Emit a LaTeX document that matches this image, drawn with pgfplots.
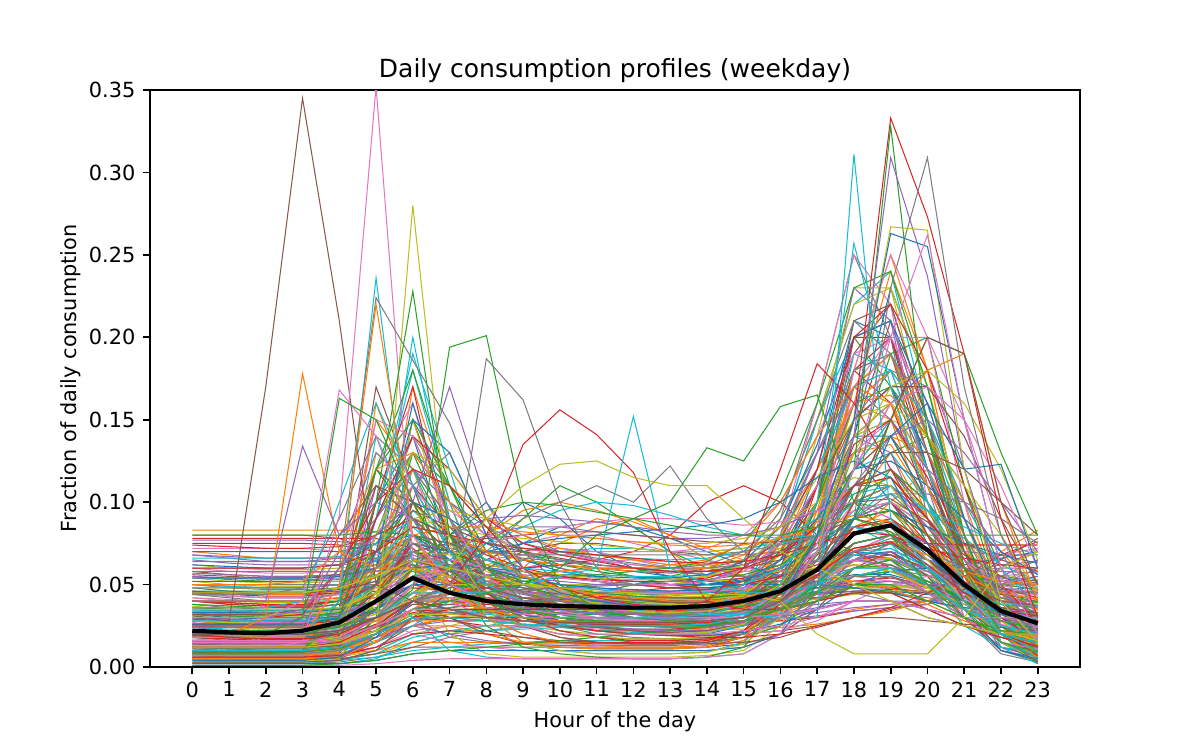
\documentclass[border=0pt]{standalone}
\usepackage{fontspec}
\setmainfont{DejaVu Sans}
\usepackage{pgfplots}
\usepackage{pgfplotstable}
\pgfplotsset{compat=1.18}
\definecolor{C0}{HTML}{1F77B4}
\definecolor{C1}{HTML}{FF7F0E}
\definecolor{C2}{HTML}{2CA02C}
\definecolor{C3}{HTML}{D62728}
\definecolor{C4}{HTML}{9467BD}
\definecolor{C5}{HTML}{8C564B}
\definecolor{C6}{HTML}{E377C2}
\definecolor{C7}{HTML}{7F7F7F}
\definecolor{C8}{HTML}{BCBD22}
\definecolor{C9}{HTML}{17BECF}
\pgfplotscreateplotcyclelist{tab}{{C0},{C1},{C2},{C3},{C4},{C5},{C6},{C7},{C8},{C9}}

% each row = one household profile, columns = hours 0..23
\pgfplotstableread[header=false]{
0.015 0.014 0.013 0.013 0.016 0.030 0.060 0.050 0.035 0.030 0.028 0.027 0.027 0.028 0.030 0.035 0.045 0.070 0.110 0.120 0.090 0.060 0.035 0.022
0.030 0.028 0.027 0.027 0.030 0.045 0.070 0.055 0.042 0.038 0.036 0.035 0.034 0.034 0.035 0.038 0.044 0.055 0.070 0.075 0.065 0.050 0.040 0.035
0.010 0.009 0.009 0.009 0.012 0.060 0.120 0.080 0.040 0.030 0.025 0.022 0.022 0.022 0.024 0.028 0.040 0.060 0.100 0.110 0.080 0.050 0.025 0.015
0.045 0.044 0.044 0.044 0.045 0.046 0.048 0.046 0.044 0.042 0.041 0.040 0.040 0.040 0.040 0.041 0.042 0.044 0.046 0.047 0.046 0.045 0.045 0.045
0.008 0.007 0.007 0.008 0.010 0.020 0.040 0.035 0.030 0.032 0.035 0.036 0.037 0.036 0.036 0.040 0.050 0.080 0.140 0.160 0.110 0.060 0.025 0.012
0.025 0.022 0.020 0.020 0.025 0.080 0.100 0.060 0.040 0.035 0.030 0.030 0.030 0.030 0.030 0.035 0.045 0.060 0.080 0.090 0.070 0.045 0.030 0.028
0.060 0.058 0.057 0.057 0.058 0.060 0.062 0.055 0.045 0.040 0.037 0.035 0.034 0.033 0.033 0.034 0.036 0.040 0.045 0.048 0.048 0.050 0.055 0.058
0.012 0.012 0.012 0.012 0.014 0.050 0.090 0.070 0.050 0.045 0.042 0.040 0.038 0.037 0.037 0.040 0.045 0.055 0.080 0.090 0.070 0.050 0.030 0.018
0.005 0.005 0.005 0.005 0.006 0.010 0.020 0.025 0.030 0.035 0.040 0.045 0.050 0.052 0.050 0.050 0.055 0.070 0.120 0.150 0.140 0.090 0.040 0.010
0.035 0.033 0.032 0.032 0.034 0.060 0.080 0.060 0.050 0.045 0.042 0.040 0.040 0.040 0.040 0.042 0.046 0.050 0.055 0.058 0.052 0.045 0.040 0.037
0.018 0.016 0.015 0.015 0.018 0.100 0.140 0.070 0.040 0.030 0.028 0.027 0.026 0.026 0.027 0.030 0.035 0.045 0.065 0.075 0.060 0.040 0.025 0.020
0.070 0.068 0.066 0.066 0.066 0.065 0.060 0.050 0.040 0.035 0.030 0.028 0.027 0.026 0.026 0.026 0.028 0.030 0.035 0.038 0.040 0.045 0.055 0.065
0.022 0.020 0.019 0.019 0.021 0.030 0.045 0.040 0.035 0.033 0.032 0.032 0.032 0.032 0.033 0.036 0.045 0.070 0.130 0.140 0.100 0.055 0.030 0.024
0.003 0.003 0.003 0.003 0.005 0.015 0.030 0.028 0.025 0.025 0.025 0.025 0.025 0.025 0.026 0.030 0.050 0.100 0.180 0.200 0.140 0.060 0.015 0.005
0.040 0.038 0.037 0.037 0.040 0.070 0.090 0.070 0.060 0.055 0.050 0.048 0.046 0.045 0.045 0.046 0.048 0.050 0.052 0.052 0.048 0.045 0.042 0.040
0.028 0.026 0.025 0.025 0.027 0.040 0.150 0.090 0.045 0.035 0.030 0.028 0.027 0.027 0.028 0.030 0.035 0.050 0.070 0.080 0.060 0.045 0.035 0.030
0.015 0.013 0.012 0.012 0.015 0.025 0.035 0.040 0.050 0.060 0.065 0.065 0.062 0.060 0.058 0.058 0.060 0.065 0.070 0.065 0.045 0.030 0.020 0.015
0.050 0.048 0.047 0.047 0.048 0.055 0.070 0.060 0.045 0.040 0.036 0.034 0.033 0.032 0.032 0.033 0.036 0.042 0.055 0.060 0.055 0.050 0.050 0.050
0.010 0.009 0.009 0.009 0.011 0.130 0.110 0.050 0.030 0.025 0.022 0.020 0.020 0.020 0.021 0.025 0.035 0.055 0.090 0.100 0.080 0.050 0.025 0.013
0.020 0.019 0.018 0.018 0.020 0.025 0.040 0.045 0.045 0.045 0.045 0.045 0.045 0.045 0.046 0.048 0.055 0.070 0.095 0.100 0.080 0.060 0.040 0.025
0.032 0.030 0.029 0.029 0.031 0.035 0.045 0.042 0.040 0.040 0.040 0.040 0.040 0.040 0.040 0.042 0.046 0.055 0.075 0.080 0.070 0.055 0.042 0.035
0.007 0.006 0.006 0.006 0.008 0.040 0.170 0.100 0.040 0.025 0.020 0.018 0.017 0.017 0.018 0.022 0.030 0.050 0.100 0.130 0.090 0.050 0.020 0.010
0.055 0.053 0.052 0.052 0.053 0.055 0.058 0.052 0.045 0.042 0.040 0.039 0.038 0.038 0.038 0.039 0.041 0.044 0.048 0.050 0.048 0.047 0.050 0.053
0.012 0.011 0.011 0.011 0.014 0.022 0.035 0.033 0.030 0.030 0.030 0.030 0.030 0.030 0.031 0.035 0.050 0.090 0.170 0.190 0.120 0.060 0.025 0.015
0.026 0.024 0.023 0.023 0.026 0.110 0.090 0.050 0.040 0.036 0.034 0.033 0.033 0.033 0.034 0.037 0.042 0.050 0.065 0.070 0.058 0.045 0.035 0.028
0.080 0.080 0.080 0.080 0.078 0.070 0.060 0.045 0.035 0.030 0.025 0.022 0.020 0.020 0.020 0.020 0.022 0.025 0.030 0.035 0.040 0.050 0.065 0.078
0.016 0.015 0.014 0.014 0.016 0.020 0.028 0.040 0.060 0.070 0.072 0.070 0.065 0.060 0.058 0.055 0.055 0.058 0.062 0.060 0.045 0.030 0.020 0.017
0.038 0.036 0.035 0.035 0.038 0.050 0.065 0.055 0.048 0.045 0.043 0.042 0.041 0.041 0.042 0.044 0.048 0.054 0.060 0.060 0.052 0.045 0.040 0.038
0.004 0.004 0.004 0.004 0.006 0.020 0.050 0.045 0.040 0.040 0.040 0.040 0.040 0.040 0.040 0.045 0.060 0.090 0.130 0.140 0.100 0.050 0.015 0.005
0.022 0.021 0.020 0.020 0.024 0.090 0.180 0.100 0.045 0.030 0.026 0.024 0.023 0.023 0.024 0.027 0.033 0.045 0.060 0.065 0.050 0.035 0.025 0.022
0.048 0.046 0.045 0.045 0.047 0.052 0.060 0.055 0.050 0.048 0.046 0.045 0.044 0.044 0.044 0.045 0.046 0.048 0.050 0.050 0.048 0.047 0.047 0.048
0.010 0.010 0.010 0.010 0.012 0.018 0.030 0.035 0.035 0.035 0.035 0.035 0.035 0.035 0.037 0.045 0.070 0.120 0.160 0.150 0.090 0.045 0.020 0.012
0.030 0.028 0.027 0.027 0.029 0.035 0.050 0.060 0.070 0.070 0.065 0.060 0.055 0.050 0.048 0.046 0.045 0.045 0.048 0.048 0.045 0.040 0.035 0.032
0.018 0.017 0.016 0.016 0.018 0.025 0.060 0.055 0.045 0.040 0.038 0.036 0.035 0.034 0.034 0.036 0.042 0.060 0.100 0.110 0.085 0.055 0.030 0.020
0.065 0.063 0.062 0.062 0.062 0.064 0.068 0.060 0.050 0.044 0.040 0.038 0.036 0.035 0.035 0.035 0.036 0.038 0.040 0.040 0.040 0.042 0.050 0.060
0.006 0.006 0.006 0.006 0.008 0.012 0.025 0.030 0.030 0.030 0.032 0.035 0.038 0.040 0.042 0.050 0.070 0.110 0.190 0.220 0.150 0.060 0.015 0.007
0.025 0.024 0.023 0.023 0.025 0.030 0.040 0.040 0.038 0.038 0.038 0.038 0.038 0.038 0.039 0.042 0.050 0.065 0.090 0.095 0.080 0.060 0.040 0.028
0.014 0.013 0.013 0.013 0.015 0.070 0.120 0.090 0.060 0.050 0.045 0.042 0.040 0.038 0.037 0.038 0.040 0.045 0.055 0.060 0.050 0.035 0.020 0.015
0.042 0.040 0.039 0.039 0.041 0.048 0.060 0.052 0.045 0.042 0.040 0.039 0.038 0.038 0.038 0.040 0.044 0.052 0.065 0.068 0.060 0.050 0.045 0.042
0.002 0.002 0.002 0.002 0.004 0.010 0.020 0.022 0.022 0.023 0.024 0.025 0.026 0.027 0.030 0.040 0.080 0.150 0.220 0.240 0.150 0.050 0.010 0.003
0.020 0.018 0.017 0.017 0.020 0.045 0.070 0.060 0.055 0.052 0.050 0.050 0.050 0.050 0.050 0.052 0.055 0.060 0.065 0.065 0.055 0.040 0.028 0.022
0.034 0.032 0.031 0.031 0.033 0.150 0.120 0.060 0.040 0.032 0.028 0.026 0.025 0.025 0.026 0.028 0.032 0.040 0.050 0.055 0.048 0.040 0.036 0.034
0.012 0.011 0.010 0.010 0.012 0.018 0.028 0.030 0.032 0.035 0.040 0.045 0.050 0.055 0.060 0.065 0.075 0.090 0.100 0.095 0.070 0.040 0.020 0.013
0.075 0.075 0.075 0.075 0.074 0.070 0.062 0.050 0.040 0.035 0.032 0.030 0.028 0.027 0.027 0.027 0.028 0.030 0.034 0.036 0.038 0.045 0.060 0.070
0.024 0.022 0.021 0.021 0.024 0.035 0.055 0.050 0.045 0.042 0.040 0.038 0.037 0.036 0.036 0.038 0.042 0.050 0.070 0.075 0.065 0.050 0.035 0.026
0.009 0.008 0.008 0.008 0.010 0.015 0.025 0.030 0.030 0.030 0.030 0.030 0.030 0.030 0.032 0.040 0.060 0.100 0.150 0.170 0.120 0.055 0.020 0.010
0.036 0.034 0.033 0.033 0.036 0.070 0.110 0.080 0.055 0.045 0.040 0.038 0.036 0.035 0.035 0.037 0.040 0.045 0.052 0.055 0.048 0.042 0.038 0.036
0.016 0.015 0.014 0.014 0.017 0.025 0.045 0.050 0.050 0.050 0.050 0.050 0.050 0.050 0.050 0.050 0.052 0.058 0.070 0.072 0.060 0.045 0.030 0.018
0.052 0.050 0.049 0.049 0.050 0.054 0.060 0.055 0.048 0.045 0.043 0.042 0.041 0.040 0.040 0.041 0.042 0.045 0.048 0.050 0.048 0.047 0.049 0.051
0.006 0.005 0.005 0.005 0.007 0.060 0.200 0.090 0.035 0.025 0.020 0.018 0.017 0.017 0.018 0.022 0.030 0.050 0.090 0.110 0.080 0.040 0.015 0.008
0.020 0.018 0.017 0.017 0.018 0.022 0.040 0.080 0.100 0.070 0.050 0.045 0.045 0.045 0.045 0.048 0.052 0.060 0.070 0.068 0.055 0.040 0.030 0.022
0.028 0.026 0.025 0.025 0.027 0.032 0.040 0.045 0.050 0.060 0.080 0.090 0.085 0.070 0.055 0.045 0.042 0.042 0.045 0.045 0.040 0.035 0.030 0.028
0.013 0.012 0.012 0.012 0.014 0.020 0.030 0.032 0.033 0.034 0.035 0.036 0.037 0.038 0.040 0.045 0.060 0.085 0.110 0.130 0.140 0.110 0.060 0.020
0.040 0.039 0.038 0.038 0.040 0.042 0.048 0.050 0.052 0.055 0.058 0.060 0.060 0.058 0.056 0.055 0.054 0.052 0.050 0.048 0.045 0.042 0.040 0.040
0.008 0.007 0.007 0.007 0.009 0.025 0.070 0.060 0.045 0.040 0.038 0.036 0.035 0.035 0.036 0.040 0.055 0.080 0.110 0.115 0.090 0.060 0.030 0.012
0.058 0.056 0.055 0.055 0.056 0.058 0.062 0.058 0.050 0.045 0.042 0.040 0.038 0.037 0.037 0.038 0.040 0.042 0.045 0.046 0.045 0.045 0.050 0.055
0.017 0.016 0.015 0.015 0.017 0.120 0.160 0.080 0.040 0.030 0.025 0.023 0.022 0.022 0.023 0.026 0.032 0.045 0.070 0.080 0.060 0.040 0.025 0.018
0.030 0.029 0.028 0.028 0.030 0.034 0.040 0.042 0.044 0.046 0.048 0.050 0.052 0.052 0.052 0.054 0.058 0.064 0.068 0.066 0.056 0.045 0.036 0.031
0.004 0.004 0.004 0.004 0.005 0.008 0.015 0.020 0.025 0.028 0.030 0.030 0.030 0.030 0.032 0.040 0.070 0.140 0.230 0.230 0.140 0.060 0.015 0.005
0.024 0.023 0.022 0.022 0.024 0.060 0.085 0.065 0.050 0.045 0.042 0.040 0.039 0.038 0.038 0.040 0.045 0.055 0.070 0.075 0.062 0.048 0.035 0.026
0.045 0.043 0.042 0.042 0.044 0.050 0.060 0.060 0.060 0.058 0.055 0.052 0.050 0.048 0.047 0.046 0.045 0.045 0.046 0.046 0.044 0.043 0.044 0.045
0.011 0.010 0.010 0.010 0.012 0.016 0.025 0.030 0.032 0.034 0.035 0.036 0.036 0.036 0.038 0.045 0.065 0.095 0.120 0.140 0.130 0.090 0.045 0.015
0.033 0.031 0.030 0.030 0.033 0.090 0.130 0.080 0.050 0.040 0.035 0.033 0.032 0.031 0.031 0.033 0.038 0.045 0.055 0.058 0.050 0.042 0.036 0.033
0.019 0.018 0.017 0.017 0.019 0.024 0.033 0.036 0.038 0.040 0.042 0.044 0.046 0.048 0.050 0.054 0.062 0.075 0.090 0.095 0.080 0.060 0.040 0.022
0.068 0.067 0.066 0.066 0.066 0.066 0.066 0.060 0.050 0.042 0.037 0.034 0.032 0.031 0.030 0.030 0.031 0.033 0.036 0.038 0.040 0.045 0.055 0.065
0.007 0.007 0.007 0.007 0.009 0.030 0.100 0.090 0.060 0.045 0.040 0.038 0.036 0.035 0.035 0.038 0.045 0.060 0.080 0.090 0.070 0.045 0.020 0.009
0.027 0.025 0.024 0.024 0.026 0.030 0.038 0.040 0.040 0.040 0.040 0.040 0.040 0.040 0.041 0.044 0.052 0.070 0.100 0.110 0.085 0.060 0.040 0.030
0.015 0.014 0.013 0.013 0.016 0.080 0.140 0.110 0.070 0.050 0.040 0.035 0.032 0.030 0.030 0.032 0.036 0.045 0.060 0.065 0.050 0.035 0.022 0.016
0.037 0.035 0.034 0.034 0.036 0.040 0.048 0.050 0.052 0.054 0.056 0.056 0.055 0.054 0.053 0.052 0.052 0.052 0.052 0.050 0.046 0.042 0.040 0.038
0.003 0.003 0.003 0.003 0.004 0.008 0.018 0.022 0.025 0.028 0.030 0.032 0.034 0.036 0.040 0.050 0.080 0.130 0.170 0.180 0.150 0.080 0.025 0.005
0.021 0.020 0.019 0.019 0.022 0.040 0.075 0.065 0.055 0.050 0.047 0.045 0.043 0.042 0.042 0.044 0.048 0.056 0.068 0.070 0.058 0.045 0.032 0.023
0.083 0.083 0.083 0.083 0.083 0.082 0.075 0.060 0.045 0.035 0.030 0.027 0.025 0.024 0.023 0.023 0.024 0.026 0.030 0.034 0.040 0.050 0.070 0.083
0.010 0.010 0.010 0.010 0.012 0.020 0.030 0.045 0.060 0.065 0.060 0.055 0.050 0.048 0.046 0.046 0.050 0.060 0.075 0.080 0.065 0.045 0.025 0.012
0.046 0.044 0.043 0.043 0.045 0.055 0.075 0.065 0.055 0.050 0.046 0.044 0.042 0.041 0.041 0.042 0.044 0.048 0.052 0.054 0.050 0.047 0.046 0.046
0.014 0.013 0.012 0.012 0.014 0.020 0.035 0.040 0.040 0.040 0.040 0.040 0.040 0.040 0.042 0.050 0.075 0.110 0.140 0.130 0.080 0.045 0.022 0.015
0.031 0.029 0.028 0.028 0.031 0.170 0.110 0.050 0.035 0.030 0.028 0.027 0.027 0.027 0.028 0.030 0.034 0.040 0.050 0.055 0.048 0.040 0.034 0.031
0.023 0.022 0.021 0.021 0.023 0.028 0.040 0.050 0.055 0.060 0.062 0.064 0.065 0.064 0.062 0.060 0.058 0.056 0.055 0.052 0.045 0.038 0.030 0.024
0.005 0.005 0.005 0.005 0.007 0.015 0.035 0.040 0.040 0.040 0.040 0.040 0.040 0.040 0.042 0.050 0.070 0.100 0.160 0.180 0.120 0.050 0.015 0.006
0.062 0.060 0.059 0.059 0.060 0.062 0.064 0.058 0.050 0.045 0.042 0.040 0.039 0.038 0.038 0.038 0.039 0.041 0.044 0.046 0.046 0.048 0.053 0.059
0.018 0.017 0.016 0.016 0.018 0.050 0.095 0.075 0.055 0.048 0.044 0.042 0.040 0.039 0.039 0.041 0.046 0.055 0.075 0.080 0.065 0.045 0.028 0.019
0.016 0.015 0.014 0.014 0.016 0.022 0.035 0.038 0.040 0.040 0.040 0.040 0.040 0.040 0.042 0.048 0.065 0.110 0.130 0.100 0.070 0.045 0.028 0.018
0.026 0.025 0.024 0.024 0.026 0.030 0.040 0.042 0.042 0.042 0.042 0.042 0.042 0.042 0.043 0.046 0.052 0.060 0.080 0.100 0.120 0.080 0.045 0.030
0.012 0.011 0.011 0.011 0.013 0.020 0.032 0.035 0.035 0.036 0.037 0.038 0.039 0.040 0.042 0.050 0.070 0.100 0.200 0.170 0.100 0.050 0.022 0.013
0.040 0.038 0.037 0.037 0.040 0.045 0.055 0.052 0.048 0.046 0.044 0.043 0.042 0.042 0.042 0.044 0.048 0.055 0.065 0.068 0.060 0.050 0.044 0.041
0.008 0.008 0.008 0.008 0.010 0.015 0.028 0.032 0.034 0.036 0.038 0.040 0.042 0.044 0.046 0.050 0.060 0.080 0.120 0.160 0.180 0.120 0.050 0.012
0.020 0.019 0.018 0.018 0.021 0.060 0.110 0.085 0.060 0.050 0.045 0.042 0.040 0.039 0.039 0.040 0.044 0.050 0.060 0.062 0.052 0.040 0.028 0.021
0.034 0.033 0.032 0.032 0.034 0.038 0.045 0.045 0.045 0.045 0.045 0.045 0.045 0.045 0.046 0.048 0.052 0.058 0.065 0.066 0.058 0.048 0.040 0.035
0.002 0.002 0.002 0.002 0.003 0.006 0.012 0.018 0.022 0.025 0.028 0.030 0.032 0.034 0.038 0.050 0.090 0.160 0.250 0.200 0.090 0.030 0.008 0.003
0.054 0.052 0.051 0.051 0.052 0.056 0.064 0.060 0.054 0.050 0.047 0.045 0.044 0.043 0.043 0.043 0.044 0.046 0.048 0.049 0.048 0.048 0.050 0.053
0.013 0.012 0.012 0.012 0.014 0.090 0.190 0.120 0.050 0.030 0.024 0.022 0.021 0.021 0.022 0.025 0.032 0.045 0.065 0.070 0.055 0.035 0.020 0.014
0.029 0.028 0.027 0.027 0.029 0.033 0.042 0.048 0.055 0.060 0.062 0.060 0.058 0.055 0.052 0.050 0.050 0.052 0.056 0.056 0.050 0.042 0.035 0.030
0.009 0.009 0.009 0.009 0.011 0.018 0.030 0.034 0.036 0.038 0.040 0.041 0.042 0.043 0.045 0.052 0.068 0.095 0.130 0.135 0.100 0.060 0.028 0.011
0.036 0.035 0.034 0.034 0.036 0.120 0.090 0.055 0.045 0.040 0.038 0.036 0.035 0.035 0.035 0.037 0.040 0.046 0.055 0.058 0.050 0.043 0.038 0.036
0.019 0.018 0.017 0.017 0.019 0.025 0.040 0.045 0.048 0.050 0.050 0.050 0.050 0.050 0.050 0.052 0.058 0.068 0.085 0.088 0.072 0.052 0.035 0.020
0.077 0.077 0.077 0.077 0.076 0.074 0.070 0.060 0.048 0.040 0.035 0.032 0.030 0.029 0.028 0.028 0.029 0.031 0.034 0.036 0.038 0.045 0.060 0.072
0.006 0.006 0.006 0.006 0.008 0.040 0.080 0.070 0.055 0.048 0.044 0.042 0.041 0.040 0.040 0.043 0.050 0.065 0.090 0.100 0.080 0.050 0.020 0.008
0.044 0.043 0.042 0.042 0.044 0.048 0.055 0.054 0.052 0.050 0.048 0.047 0.046 0.046 0.046 0.047 0.048 0.050 0.052 0.052 0.049 0.046 0.045 0.044
0.011 0.010 0.010 0.010 0.012 0.018 0.030 0.036 0.040 0.042 0.044 0.045 0.046 0.046 0.047 0.050 0.060 0.080 0.110 0.120 0.100 0.070 0.035 0.013
0.025 0.024 0.023 0.023 0.026 0.070 0.100 0.075 0.058 0.050 0.046 0.044 0.042 0.041 0.041 0.043 0.047 0.054 0.064 0.066 0.055 0.042 0.030 0.026
0.001 0.001 0.001 0.001 0.002 0.005 0.015 0.020 0.022 0.024 0.026 0.028 0.030 0.032 0.036 0.045 0.080 0.150 0.200 0.210 0.140 0.060 0.012 0.002
0.020 0.019 0.018 0.018 0.020 0.030 0.045 0.060 0.080 0.100 0.090 0.070 0.060 0.055 0.050 0.050 0.052 0.058 0.065 0.062 0.050 0.038 0.028 0.021
0.015 0.014 0.014 0.014 0.016 0.022 0.035 0.045 0.055 0.065 0.075 0.085 0.090 0.080 0.065 0.055 0.052 0.055 0.062 0.060 0.048 0.035 0.022 0.016
0.032 0.031 0.030 0.030 0.032 0.036 0.045 0.055 0.075 0.090 0.110 0.100 0.085 0.070 0.060 0.055 0.050 0.048 0.048 0.046 0.040 0.036 0.033 0.032
0.010 0.010 0.010 0.010 0.012 0.020 0.040 0.050 0.055 0.060 0.062 0.065 0.070 0.080 0.100 0.110 0.100 0.080 0.070 0.060 0.045 0.030 0.018 0.011
0.022 0.021 0.020 0.020 0.022 0.028 0.050 0.070 0.090 0.080 0.070 0.065 0.060 0.058 0.056 0.055 0.056 0.060 0.065 0.062 0.050 0.038 0.028 0.023
0.005 0.005 0.005 0.005 0.005 0.008 0.012 0.012 0.012 0.012 0.012 0.012 0.012 0.012 0.012 0.014 0.020 0.035 0.060 0.070 0.055 0.030 0.012 0.006
0.030 0.028 0.027 0.027 0.028 0.030 0.020 0.015 0.012 0.010 0.010 0.010 0.010 0.010 0.010 0.012 0.020 0.040 0.070 0.080 0.070 0.060 0.045 0.035
0.050 0.050 0.050 0.050 0.050 0.050 0.030 0.018 0.015 0.014 0.014 0.014 0.014 0.014 0.015 0.018 0.025 0.040 0.060 0.065 0.060 0.055 0.052 0.050
0.015 0.015 0.015 0.015 0.016 0.040 0.060 0.020 0.008 0.006 0.006 0.006 0.006 0.006 0.007 0.010 0.025 0.060 0.100 0.110 0.090 0.060 0.030 0.016
0.040 0.040 0.040 0.040 0.040 0.045 0.030 0.010 0.006 0.005 0.005 0.005 0.005 0.005 0.006 0.008 0.020 0.050 0.090 0.100 0.085 0.070 0.055 0.045
0.010 0.010 0.010 0.010 0.012 0.020 0.030 0.030 0.030 0.030 0.030 0.030 0.030 0.030 0.032 0.040 0.060 0.120 0.210 0.200 0.120 0.050 0.020 0.011
0.008 0.008 0.008 0.008 0.010 0.018 0.028 0.028 0.028 0.028 0.028 0.028 0.028 0.028 0.030 0.036 0.050 0.090 0.160 0.240 0.180 0.080 0.025 0.009
0.012 0.012 0.012 0.012 0.014 0.022 0.035 0.035 0.034 0.033 0.032 0.032 0.032 0.032 0.034 0.040 0.055 0.080 0.120 0.190 0.200 0.110 0.040 0.013
0.018 0.017 0.016 0.016 0.018 0.026 0.040 0.040 0.038 0.036 0.035 0.035 0.035 0.035 0.036 0.042 0.060 0.110 0.180 0.160 0.100 0.050 0.025 0.019
0.006 0.006 0.006 0.006 0.008 0.015 0.025 0.028 0.028 0.028 0.028 0.028 0.028 0.030 0.034 0.045 0.075 0.130 0.230 0.210 0.110 0.040 0.012 0.007
0.014 0.013 0.013 0.013 0.015 0.024 0.038 0.038 0.036 0.034 0.033 0.033 0.033 0.033 0.035 0.040 0.055 0.090 0.140 0.210 0.150 0.060 0.025 0.015
0.005 0.005 0.005 0.005 0.006 0.012 0.022 0.025 0.025 0.025 0.025 0.026 0.027 0.028 0.032 0.045 0.080 0.160 0.250 0.220 0.100 0.030 0.010 0.006
0.011 0.011 0.011 0.011 0.013 0.020 0.032 0.033 0.033 0.033 0.033 0.033 0.033 0.033 0.035 0.042 0.058 0.090 0.150 0.180 0.170 0.090 0.035 0.012
0.020 0.019 0.018 0.018 0.020 0.028 0.042 0.042 0.040 0.038 0.037 0.037 0.037 0.037 0.038 0.044 0.060 0.100 0.170 0.190 0.130 0.060 0.030 0.021
0.016 0.015 0.015 0.015 0.020 0.140 0.090 0.050 0.040 0.035 0.032 0.030 0.030 0.030 0.030 0.033 0.040 0.055 0.080 0.085 0.065 0.045 0.028 0.018
0.022 0.021 0.020 0.020 0.025 0.060 0.160 0.090 0.050 0.040 0.035 0.032 0.030 0.030 0.031 0.034 0.040 0.052 0.070 0.075 0.060 0.042 0.030 0.023
0.012 0.012 0.012 0.012 0.015 0.160 0.100 0.050 0.035 0.030 0.028 0.027 0.026 0.026 0.027 0.030 0.038 0.055 0.085 0.095 0.075 0.048 0.025 0.013
0.028 0.027 0.026 0.026 0.030 0.050 0.130 0.110 0.070 0.050 0.042 0.038 0.036 0.035 0.035 0.037 0.042 0.050 0.060 0.062 0.052 0.040 0.032 0.029
0.009 0.009 0.009 0.009 0.012 0.100 0.170 0.070 0.035 0.028 0.025 0.024 0.023 0.023 0.024 0.028 0.036 0.055 0.090 0.100 0.075 0.045 0.020 0.010
0.060 0.060 0.060 0.060 0.062 0.080 0.110 0.070 0.050 0.040 0.035 0.032 0.030 0.030 0.030 0.032 0.036 0.045 0.060 0.065 0.060 0.058 0.060 0.060
0.052 0.052 0.052 0.052 0.055 0.120 0.100 0.060 0.040 0.032 0.028 0.026 0.025 0.025 0.026 0.030 0.040 0.055 0.075 0.080 0.070 0.060 0.055 0.052
0.072 0.072 0.072 0.072 0.070 0.068 0.070 0.060 0.045 0.035 0.028 0.025 0.022 0.020 0.020 0.020 0.022 0.028 0.040 0.050 0.055 0.060 0.068 0.072
0.044 0.042 0.040 0.040 0.045 0.090 0.140 0.090 0.050 0.035 0.030 0.028 0.026 0.025 0.025 0.027 0.032 0.045 0.065 0.075 0.065 0.055 0.048 0.045
0.038 0.037 0.036 0.036 0.038 0.045 0.060 0.060 0.055 0.050 0.045 0.042 0.040 0.038 0.037 0.038 0.042 0.055 0.080 0.090 0.075 0.055 0.042 0.039
0.004 0.003 0.003 0.003 0.004 0.006 0.010 0.012 0.014 0.015 0.016 0.016 0.016 0.016 0.017 0.020 0.030 0.060 0.120 0.150 0.120 0.070 0.020 0.005
0.002 0.002 0.002 0.002 0.002 0.004 0.008 0.010 0.010 0.010 0.010 0.010 0.010 0.010 0.010 0.012 0.020 0.050 0.140 0.230 0.170 0.080 0.015 0.003
0.008 0.008 0.008 0.008 0.008 0.010 0.015 0.015 0.015 0.015 0.015 0.015 0.015 0.015 0.016 0.020 0.040 0.090 0.160 0.180 0.150 0.100 0.040 0.010
0.030 0.030 0.030 0.030 0.032 0.040 0.055 0.050 0.040 0.030 0.022 0.018 0.015 0.015 0.015 0.018 0.025 0.045 0.090 0.120 0.100 0.070 0.045 0.032
0.025 0.024 0.024 0.024 0.026 0.035 0.050 0.045 0.035 0.025 0.018 0.015 0.014 0.014 0.015 0.020 0.035 0.070 0.140 0.160 0.120 0.070 0.040 0.028
0.015 0.014 0.014 0.014 0.015 0.018 0.025 0.020 0.016 0.014 0.013 0.013 0.013 0.013 0.014 0.018 0.030 0.080 0.200 0.210 0.140 0.070 0.030 0.016
0.035 0.034 0.033 0.033 0.035 0.060 0.090 0.070 0.040 0.025 0.018 0.015 0.014 0.014 0.015 0.020 0.035 0.070 0.120 0.140 0.110 0.070 0.045 0.036
0.020 0.020 0.020 0.020 0.022 0.030 0.045 0.040 0.030 0.020 0.015 0.012 0.011 0.011 0.012 0.016 0.030 0.080 0.170 0.200 0.160 0.090 0.040 0.022
0.028 0.028 0.028 0.028 0.030 0.050 0.110 0.130 0.080 0.040 0.025 0.020 0.018 0.017 0.017 0.020 0.030 0.060 0.100 0.110 0.090 0.060 0.040 0.030
0.048 0.048 0.048 0.048 0.050 0.055 0.065 0.050 0.035 0.025 0.020 0.018 0.017 0.017 0.018 0.022 0.035 0.060 0.090 0.100 0.090 0.070 0.055 0.050
0.010 0.010 0.010 0.010 0.015 0.070 0.120 0.070 0.030 0.015 0.010 0.008 0.008 0.008 0.009 0.015 0.035 0.080 0.140 0.150 0.110 0.060 0.025 0.012
0.018 0.018 0.018 0.018 0.020 0.030 0.050 0.060 0.050 0.040 0.030 0.025 0.022 0.020 0.020 0.025 0.040 0.080 0.150 0.170 0.130 0.070 0.030 0.019
0.033 0.033 0.033 0.033 0.035 0.045 0.070 0.060 0.045 0.035 0.028 0.024 0.022 0.021 0.022 0.026 0.040 0.070 0.110 0.120 0.095 0.065 0.045 0.035
0.005 0.005 0.005 0.005 0.006 0.030 0.090 0.060 0.025 0.012 0.008 0.006 0.005 0.005 0.006 0.012 0.040 0.100 0.180 0.190 0.140 0.070 0.020 0.006
0.040 0.039 0.038 0.038 0.040 0.050 0.070 0.065 0.055 0.045 0.038 0.034 0.032 0.030 0.030 0.032 0.040 0.060 0.085 0.090 0.075 0.060 0.048 0.042
0.057 0.056 0.055 0.055 0.056 0.065 0.080 0.065 0.045 0.035 0.028 0.025 0.023 0.022 0.022 0.025 0.032 0.045 0.065 0.070 0.065 0.060 0.058 0.057
0.012 0.012 0.012 0.012 0.013 0.020 0.035 0.030 0.020 0.014 0.012 0.011 0.011 0.011 0.012 0.018 0.040 0.100 0.210 0.220 0.150 0.070 0.025 0.013
0.022 0.022 0.022 0.022 0.025 0.040 0.065 0.055 0.040 0.030 0.025 0.022 0.020 0.020 0.021 0.026 0.040 0.075 0.130 0.150 0.120 0.075 0.040 0.024
0.064 0.064 0.064 0.064 0.064 0.066 0.070 0.060 0.045 0.035 0.030 0.027 0.025 0.024 0.024 0.025 0.030 0.040 0.055 0.060 0.058 0.058 0.062 0.064
0.003 0.003 0.003 0.003 0.005 0.040 0.150 0.080 0.030 0.015 0.010 0.008 0.008 0.008 0.009 0.014 0.030 0.070 0.140 0.160 0.120 0.060 0.015 0.004
0.016 0.016 0.016 0.016 0.018 0.025 0.040 0.040 0.035 0.030 0.025 0.022 0.020 0.020 0.021 0.025 0.040 0.085 0.190 0.180 0.120 0.060 0.025 0.017
0.026 0.026 0.026 0.026 0.028 0.035 0.050 0.050 0.040 0.032 0.028 0.026 0.025 0.025 0.026 0.030 0.045 0.080 0.140 0.140 0.100 0.060 0.035 0.027
0.010 0.010 0.010 0.010 0.011 0.015 0.025 0.025 0.020 0.015 0.012 0.011 0.011 0.011 0.012 0.016 0.035 0.090 0.180 0.250 0.180 0.080 0.025 0.011
0.046 0.046 0.046 0.046 0.048 0.070 0.100 0.080 0.055 0.040 0.032 0.028 0.026 0.025 0.025 0.028 0.035 0.050 0.070 0.075 0.068 0.058 0.050 0.047
0.006 0.006 0.006 0.006 0.007 0.012 0.020 0.022 0.020 0.018 0.016 0.015 0.015 0.015 0.016 0.022 0.045 0.110 0.200 0.200 0.130 0.060 0.020 0.007
0.036 0.036 0.036 0.036 0.038 0.050 0.075 0.065 0.045 0.035 0.030 0.027 0.025 0.024 0.024 0.027 0.035 0.055 0.090 0.100 0.085 0.060 0.042 0.037
0.019 0.019 0.019 0.019 0.022 0.050 0.100 0.080 0.050 0.035 0.028 0.024 0.022 0.021 0.022 0.026 0.038 0.065 0.110 0.120 0.095 0.060 0.032 0.020
0.001 0.001 0.001 0.001 0.001 0.002 0.004 0.005 0.005 0.005 0.005 0.005 0.005 0.005 0.006 0.008 0.020 0.070 0.180 0.250 0.200 0.100 0.020 0.002
0.050 0.049 0.048 0.048 0.050 0.060 0.075 0.060 0.045 0.035 0.030 0.028 0.026 0.025 0.025 0.028 0.035 0.050 0.070 0.078 0.070 0.060 0.054 0.051
0.013 0.013 0.013 0.013 0.015 0.030 0.060 0.055 0.040 0.030 0.025 0.022 0.020 0.020 0.021 0.026 0.042 0.080 0.140 0.150 0.110 0.060 0.028 0.014
0.024 0.024 0.024 0.024 0.026 0.040 0.070 0.060 0.045 0.035 0.030 0.028 0.027 0.027 0.028 0.032 0.045 0.075 0.120 0.130 0.100 0.060 0.035 0.025
0.070 0.070 0.070 0.070 0.070 0.075 0.080 0.065 0.045 0.032 0.025 0.022 0.020 0.019 0.019 0.021 0.026 0.035 0.050 0.058 0.060 0.062 0.066 0.070
0.007 0.007 0.007 0.007 0.009 0.025 0.060 0.050 0.030 0.020 0.015 0.013 0.012 0.012 0.013 0.018 0.040 0.095 0.170 0.190 0.140 0.075 0.025 0.008
0.031 0.031 0.031 0.031 0.033 0.045 0.065 0.058 0.045 0.036 0.030 0.027 0.025 0.025 0.026 0.030 0.042 0.068 0.105 0.115 0.090 0.060 0.038 0.032
0.015 0.015 0.015 0.015 0.017 0.035 0.080 0.070 0.045 0.030 0.022 0.018 0.016 0.016 0.017 0.022 0.038 0.078 0.135 0.150 0.115 0.065 0.030 0.016
0.055 0.054 0.053 0.053 0.054 0.058 0.065 0.060 0.052 0.046 0.042 0.040 0.038 0.037 0.037 0.038 0.040 0.044 0.050 0.052 0.050 0.050 0.052 0.055
0.003 0.003 0.003 0.003 0.004 0.010 0.030 0.045 0.060 0.070 0.075 0.075 0.072 0.070 0.068 0.068 0.070 0.080 0.090 0.085 0.060 0.030 0.010 0.004
0.012 0.012 0.012 0.012 0.014 0.020 0.035 0.050 0.065 0.075 0.080 0.080 0.075 0.070 0.065 0.060 0.058 0.060 0.065 0.060 0.045 0.030 0.018 0.013
0.040 0.040 0.040 0.040 0.042 0.050 0.065 0.070 0.070 0.068 0.065 0.062 0.060 0.058 0.056 0.055 0.052 0.050 0.048 0.045 0.042 0.040 0.040 0.040
0.024 0.024 0.024 0.024 0.026 0.032 0.045 0.055 0.062 0.068 0.070 0.068 0.065 0.062 0.060 0.058 0.058 0.060 0.062 0.058 0.048 0.038 0.030 0.025
0.008 0.008 0.008 0.008 0.010 0.015 0.025 0.040 0.055 0.065 0.070 0.072 0.072 0.070 0.070 0.072 0.075 0.080 0.085 0.075 0.050 0.025 0.012 0.009
0.033 0.033 0.033 0.033 0.035 0.040 0.050 0.058 0.065 0.075 0.085 0.088 0.085 0.078 0.070 0.062 0.055 0.050 0.048 0.045 0.040 0.036 0.034 0.033
0.018 0.018 0.018 0.018 0.020 0.028 0.042 0.060 0.080 0.095 0.100 0.095 0.088 0.080 0.072 0.065 0.058 0.055 0.052 0.048 0.038 0.028 0.020 0.018
0.001 0.001 0.001 0.001 0.002 0.004 0.008 0.010 0.012 0.014 0.016 0.018 0.020 0.022 0.025 0.030 0.050 0.100 0.160 0.170 0.140 0.080 0.020 0.002
0.078 0.078 0.078 0.078 0.078 0.078 0.072 0.055 0.040 0.030 0.025 0.022 0.020 0.019 0.018 0.018 0.020 0.024 0.030 0.036 0.045 0.055 0.068 0.076
0.068 0.066 0.064 0.064 0.066 0.090 0.120 0.100 0.080 0.070 0.060 0.055 0.050 0.048 0.048 0.050 0.055 0.065 0.080 0.085 0.075 0.070 0.068 0.068
0.056 0.055 0.054 0.054 0.056 0.070 0.095 0.085 0.075 0.070 0.066 0.062 0.060 0.058 0.058 0.060 0.065 0.075 0.090 0.095 0.085 0.075 0.065 0.058
0.042 0.041 0.040 0.040 0.044 0.080 0.110 0.095 0.080 0.072 0.068 0.065 0.062 0.060 0.060 0.062 0.068 0.080 0.095 0.100 0.085 0.065 0.050 0.043
0.035 0.034 0.033 0.033 0.036 0.100 0.130 0.100 0.085 0.075 0.070 0.066 0.063 0.060 0.060 0.062 0.068 0.080 0.100 0.105 0.085 0.060 0.042 0.036
0.028 0.027 0.026 0.026 0.030 0.060 0.090 0.085 0.080 0.078 0.076 0.074 0.072 0.070 0.070 0.072 0.078 0.090 0.110 0.115 0.095 0.065 0.040 0.029
0.050 0.049 0.048 0.048 0.050 0.065 0.085 0.080 0.075 0.072 0.070 0.068 0.066 0.065 0.066 0.070 0.078 0.090 0.105 0.110 0.095 0.078 0.062 0.052
0.062 0.061 0.060 0.060 0.062 0.075 0.100 0.090 0.075 0.065 0.058 0.054 0.052 0.050 0.050 0.053 0.060 0.072 0.090 0.095 0.085 0.075 0.068 0.063
0.020 0.019 0.019 0.019 0.022 0.070 0.120 0.110 0.090 0.080 0.072 0.068 0.065 0.062 0.062 0.065 0.072 0.088 0.110 0.115 0.090 0.060 0.035 0.021
0.038 0.037 0.036 0.036 0.040 0.120 0.150 0.110 0.085 0.070 0.062 0.058 0.055 0.053 0.053 0.056 0.062 0.075 0.090 0.095 0.080 0.060 0.045 0.039
0.074 0.073 0.072 0.072 0.073 0.080 0.090 0.080 0.068 0.060 0.055 0.052 0.050 0.048 0.048 0.050 0.055 0.062 0.072 0.076 0.075 0.074 0.074 0.074
0.030 0.029 0.028 0.028 0.030 0.040 0.060 0.070 0.080 0.085 0.085 0.082 0.080 0.078 0.078 0.080 0.085 0.095 0.110 0.110 0.090 0.065 0.045 0.031
0.046 0.045 0.044 0.044 0.048 0.110 0.100 0.080 0.070 0.065 0.062 0.060 0.058 0.057 0.058 0.062 0.070 0.085 0.100 0.102 0.088 0.068 0.055 0.047
0.016 0.016 0.016 0.016 0.018 0.030 0.050 0.060 0.065 0.068 0.070 0.070 0.070 0.070 0.072 0.080 0.100 0.140 0.190 0.200 0.160 0.090 0.040 0.017
0.024 0.024 0.024 0.024 0.026 0.040 0.070 0.075 0.070 0.066 0.064 0.062 0.060 0.060 0.062 0.070 0.090 0.130 0.180 0.190 0.150 0.090 0.045 0.025
0.012 0.012 0.012 0.012 0.014 0.025 0.045 0.050 0.050 0.050 0.050 0.050 0.050 0.052 0.055 0.065 0.095 0.150 0.220 0.230 0.170 0.090 0.035 0.013
0.034 0.034 0.034 0.034 0.036 0.050 0.080 0.075 0.065 0.060 0.058 0.056 0.055 0.055 0.056 0.062 0.080 0.120 0.170 0.180 0.150 0.100 0.060 0.036
0.018 0.018 0.018 0.018 0.020 0.035 0.060 0.062 0.060 0.058 0.056 0.055 0.054 0.054 0.056 0.064 0.085 0.135 0.200 0.210 0.160 0.090 0.040 0.019
0.044 0.044 0.044 0.044 0.046 0.060 0.085 0.080 0.070 0.065 0.062 0.060 0.058 0.058 0.060 0.068 0.085 0.120 0.160 0.165 0.140 0.100 0.070 0.046
0.009 0.009 0.009 0.009 0.011 0.020 0.040 0.048 0.050 0.052 0.054 0.056 0.058 0.060 0.064 0.075 0.105 0.160 0.230 0.240 0.170 0.080 0.025 0.010
0.026 0.026 0.026 0.026 0.028 0.045 0.075 0.070 0.062 0.058 0.055 0.053 0.052 0.052 0.054 0.060 0.078 0.120 0.200 0.220 0.180 0.110 0.050 0.027
0.014 0.014 0.014 0.014 0.016 0.030 0.055 0.058 0.056 0.054 0.052 0.050 0.050 0.050 0.052 0.060 0.080 0.130 0.170 0.150 0.120 0.100 0.070 0.030
0.040 0.040 0.040 0.040 0.042 0.055 0.080 0.075 0.065 0.058 0.054 0.052 0.050 0.050 0.052 0.058 0.075 0.110 0.150 0.170 0.170 0.140 0.090 0.050
0.021 0.021 0.021 0.021 0.023 0.040 0.065 0.065 0.060 0.056 0.054 0.052 0.050 0.050 0.052 0.058 0.075 0.110 0.160 0.200 0.200 0.150 0.080 0.030
0.008 0.008 0.008 0.008 0.010 0.020 0.040 0.045 0.046 0.047 0.048 0.049 0.050 0.052 0.055 0.065 0.095 0.150 0.210 0.190 0.130 0.080 0.040 0.012
0.032 0.032 0.032 0.032 0.034 0.048 0.070 0.068 0.062 0.058 0.056 0.054 0.053 0.053 0.055 0.062 0.080 0.115 0.150 0.160 0.140 0.110 0.080 0.045
0.066 0.066 0.066 0.066 0.067 0.075 0.090 0.080 0.065 0.055 0.050 0.047 0.045 0.044 0.045 0.050 0.060 0.080 0.100 0.105 0.095 0.085 0.075 0.068
0.054 0.054 0.054 0.054 0.055 0.060 0.075 0.070 0.060 0.054 0.050 0.048 0.047 0.046 0.047 0.052 0.065 0.090 0.120 0.125 0.110 0.090 0.070 0.056
0.005 0.005 0.005 0.005 0.006 0.015 0.035 0.045 0.050 0.055 0.058 0.060 0.060 0.062 0.065 0.075 0.100 0.140 0.170 0.160 0.110 0.060 0.020 0.006
0.080 0.080 0.080 0.080 0.080 0.082 0.080 0.070 0.060 0.052 0.048 0.045 0.043 0.042 0.042 0.044 0.050 0.060 0.075 0.080 0.080 0.080 0.080 0.080
0.025 0.025 0.025 0.025 0.030 0.090 0.140 0.120 0.090 0.075 0.068 0.064 0.060 0.058 0.058 0.060 0.068 0.085 0.110 0.115 0.090 0.060 0.035 0.026
0.020 0.020 0.020 0.020 0.022 0.035 0.060 0.080 0.090 0.092 0.090 0.088 0.085 0.082 0.080 0.080 0.085 0.095 0.100 0.090 0.065 0.040 0.025 0.021
0.036 0.036 0.036 0.036 0.038 0.050 0.070 0.075 0.078 0.080 0.082 0.082 0.080 0.078 0.076 0.075 0.076 0.080 0.085 0.080 0.065 0.050 0.040 0.037
0.010 0.010 0.010 0.010 0.012 0.025 0.050 0.065 0.075 0.080 0.085 0.088 0.090 0.090 0.088 0.086 0.088 0.095 0.100 0.090 0.060 0.030 0.015 0.011
0.048 0.048 0.048 0.048 0.050 0.060 0.075 0.072 0.070 0.068 0.068 0.068 0.068 0.068 0.068 0.070 0.074 0.080 0.085 0.082 0.070 0.060 0.052 0.049
0.015 0.015 0.015 0.015 0.018 0.045 0.090 0.095 0.090 0.085 0.080 0.078 0.076 0.075 0.075 0.078 0.085 0.100 0.115 0.110 0.080 0.045 0.022 0.016
0.028 0.028 0.028 0.028 0.030 0.040 0.055 0.065 0.075 0.085 0.095 0.100 0.098 0.092 0.085 0.080 0.078 0.080 0.085 0.080 0.062 0.045 0.033 0.029
0.004 0.004 0.004 0.004 0.006 0.018 0.040 0.060 0.070 0.075 0.078 0.080 0.082 0.084 0.086 0.090 0.100 0.115 0.125 0.115 0.075 0.035 0.010 0.005
0.040 0.040 0.040 0.040 0.042 0.055 0.080 0.085 0.085 0.082 0.080 0.078 0.076 0.074 0.073 0.074 0.078 0.085 0.092 0.088 0.070 0.055 0.045 0.041
0.022 0.022 0.022 0.022 0.024 0.035 0.060 0.080 0.095 0.100 0.098 0.094 0.090 0.086 0.082 0.080 0.080 0.085 0.090 0.082 0.060 0.040 0.028 0.023
0.060 0.060 0.060 0.060 0.062 0.070 0.085 0.080 0.075 0.072 0.070 0.068 0.066 0.064 0.063 0.064 0.068 0.075 0.082 0.080 0.072 0.066 0.062 0.060
0.024 0.024 0.024 0.030 0.070 0.130 0.110 0.070 0.050 0.040 0.035 0.032 0.030 0.030 0.030 0.033 0.040 0.055 0.075 0.080 0.065 0.045 0.030 0.025
0.032 0.032 0.032 0.035 0.080 0.110 0.090 0.080 0.060 0.045 0.038 0.034 0.032 0.031 0.031 0.034 0.040 0.055 0.075 0.080 0.065 0.048 0.036 0.033
0.018 0.018 0.018 0.020 0.050 0.150 0.140 0.090 0.055 0.040 0.034 0.030 0.028 0.027 0.028 0.031 0.038 0.052 0.075 0.080 0.062 0.042 0.026 0.019
0.044 0.044 0.044 0.048 0.090 0.140 0.120 0.090 0.060 0.045 0.038 0.034 0.032 0.031 0.031 0.034 0.040 0.052 0.070 0.075 0.062 0.050 0.046 0.045
0.012 0.012 0.012 0.012 0.020 0.080 0.130 0.120 0.090 0.060 0.045 0.038 0.034 0.032 0.032 0.035 0.042 0.058 0.080 0.085 0.065 0.040 0.020 0.013
0.036 0.036 0.036 0.040 0.100 0.160 0.110 0.070 0.050 0.040 0.035 0.032 0.030 0.029 0.029 0.032 0.038 0.050 0.068 0.072 0.060 0.046 0.038 0.037
0.026 0.026 0.026 0.026 0.030 0.070 0.150 0.130 0.080 0.055 0.045 0.040 0.037 0.035 0.035 0.038 0.045 0.060 0.080 0.085 0.068 0.048 0.032 0.027
0.050 0.050 0.050 0.052 0.070 0.120 0.130 0.100 0.070 0.055 0.048 0.044 0.042 0.040 0.040 0.042 0.048 0.058 0.072 0.076 0.068 0.058 0.052 0.050
0.008 0.008 0.008 0.010 0.040 0.120 0.180 0.110 0.060 0.040 0.032 0.028 0.026 0.025 0.025 0.028 0.035 0.050 0.075 0.080 0.060 0.035 0.015 0.009
0.030 0.030 0.030 0.032 0.060 0.100 0.120 0.110 0.085 0.060 0.048 0.042 0.038 0.036 0.036 0.038 0.044 0.056 0.072 0.076 0.062 0.045 0.034 0.031
0.030 0.030 0.030 0.030 0.032 0.040 0.055 0.050 0.042 0.036 0.032 0.030 0.029 0.029 0.030 0.034 0.045 0.070 0.110 0.140 0.150 0.130 0.100 0.070
0.045 0.045 0.045 0.045 0.046 0.052 0.065 0.058 0.048 0.042 0.038 0.036 0.035 0.035 0.036 0.040 0.050 0.075 0.110 0.130 0.130 0.120 0.100 0.080
0.020 0.020 0.020 0.020 0.022 0.030 0.045 0.042 0.036 0.032 0.030 0.029 0.028 0.028 0.029 0.033 0.045 0.075 0.120 0.160 0.170 0.150 0.110 0.060
0.058 0.058 0.058 0.058 0.058 0.062 0.070 0.062 0.052 0.045 0.040 0.038 0.036 0.036 0.037 0.040 0.048 0.065 0.090 0.105 0.105 0.100 0.090 0.075
0.035 0.035 0.035 0.035 0.036 0.045 0.060 0.055 0.046 0.040 0.036 0.034 0.033 0.033 0.034 0.038 0.050 0.080 0.130 0.170 0.180 0.160 0.120 0.065
}\bulkraw
\pgfplotstabletranspose\bulk{\bulkraw}
\pgfplotstablegetcolsof{\bulk}
\pgfmathtruncatemacro{\nbulk}{\pgfplotsretval-1}

% conspicuous profiles
\pgfplotstableread[header=false]{
0.030 0.028 0.170 0.345 0.210 0.050 0.040 0.030 0.022 0.018 0.015 0.014 0.014 0.014 0.014 0.015 0.018 0.025 0.030 0.030 0.028 0.026 0.024 0.022
0.012 0.012 0.012 0.015 0.092 0.352 0.067 0.040 0.030 0.025 0.020 0.020 0.020 0.020 0.020 0.022 0.025 0.030 0.040 0.040 0.030 0.025 0.020 0.015
0.015 0.015 0.015 0.015 0.016 0.020 0.280 0.074 0.040 0.035 0.030 0.028 0.027 0.027 0.028 0.030 0.035 0.045 0.060 0.065 0.050 0.035 0.022 0.016
0.020 0.020 0.020 0.020 0.040 0.236 0.060 0.040 0.035 0.030 0.028 0.027 0.027 0.027 0.028 0.030 0.035 0.045 0.055 0.060 0.050 0.035 0.025 0.020
0.025 0.025 0.025 0.025 0.060 0.224 0.186 0.148 0.090 0.050 0.040 0.035 0.033 0.032 0.032 0.034 0.038 0.045 0.055 0.055 0.045 0.035 0.028 0.025
0.018 0.018 0.018 0.018 0.050 0.220 0.080 0.045 0.035 0.030 0.028 0.027 0.027 0.027 0.028 0.030 0.035 0.045 0.060 0.065 0.050 0.035 0.022 0.018
0.010 0.010 0.010 0.010 0.030 0.100 0.228 0.080 0.040 0.030 0.028 0.027 0.027 0.027 0.028 0.030 0.035 0.045 0.060 0.065 0.050 0.035 0.020 0.012
0.020 0.020 0.020 0.020 0.025 0.030 0.047 0.194 0.201 0.099 0.050 0.035 0.030 0.028 0.028 0.030 0.035 0.040 0.045 0.045 0.035 0.025 0.020 0.020
0.015 0.015 0.015 0.015 0.020 0.030 0.040 0.044 0.187 0.162 0.100 0.060 0.040 0.030 0.028 0.028 0.030 0.035 0.040 0.040 0.035 0.025 0.018 0.015
0.012 0.012 0.012 0.012 0.015 0.025 0.040 0.050 0.080 0.135 0.156 0.141 0.118 0.070 0.040 0.035 0.035 0.040 0.045 0.045 0.035 0.025 0.018 0.013
0.020 0.020 0.030 0.178 0.070 0.060 0.060 0.040 0.035 0.030 0.028 0.027 0.027 0.027 0.028 0.030 0.035 0.040 0.050 0.050 0.040 0.030 0.022 0.020
0.030 0.030 0.030 0.035 0.060 0.080 0.100 0.170 0.100 0.060 0.040 0.035 0.032 0.030 0.030 0.030 0.032 0.036 0.040 0.040 0.035 0.030 0.030 0.030
0.040 0.040 0.040 0.134 0.080 0.100 0.090 0.060 0.045 0.040 0.035 0.032 0.030 0.030 0.030 0.030 0.032 0.035 0.040 0.040 0.035 0.030 0.030 0.030
0.030 0.030 0.030 0.040 0.168 0.140 0.080 0.050 0.040 0.035 0.032 0.030 0.030 0.030 0.030 0.030 0.032 0.035 0.040 0.040 0.035 0.030 0.030 0.030
0.020 0.020 0.020 0.030 0.163 0.150 0.100 0.060 0.040 0.035 0.030 0.028 0.027 0.027 0.028 0.030 0.035 0.040 0.050 0.050 0.040 0.030 0.022 0.020
0.020 0.020 0.020 0.020 0.022 0.030 0.045 0.045 0.045 0.050 0.055 0.060 0.152 0.060 0.050 0.045 0.045 0.050 0.060 0.060 0.050 0.035 0.025 0.020
0.020 0.020 0.020 0.020 0.022 0.030 0.040 0.050 0.070 0.090 0.100 0.110 0.100 0.122 0.090 0.070 0.060 0.050 0.045 0.040 0.030 0.025 0.020 0.020
0.020 0.020 0.020 0.020 0.022 0.030 0.040 0.060 0.090 0.110 0.123 0.125 0.115 0.110 0.110 0.090 0.070 0.060 0.050 0.040 0.030 0.025 0.020 0.020
0.015 0.015 0.015 0.015 0.017 0.025 0.035 0.040 0.045 0.050 0.060 0.080 0.090 0.100 0.133 0.125 0.158 0.165 0.100 0.080 0.050 0.030 0.020 0.015
0.010 0.010 0.010 0.010 0.012 0.020 0.030 0.035 0.035 0.035 0.035 0.035 0.035 0.035 0.040 0.060 0.120 0.184 0.160 0.120 0.080 0.040 0.020 0.012
0.020 0.018 0.017 0.017 0.020 0.030 0.040 0.035 0.030 0.028 0.027 0.026 0.026 0.026 0.027 0.030 0.040 0.070 0.150 0.333 0.273 0.190 0.090 0.030
0.010 0.010 0.010 0.010 0.012 0.020 0.030 0.030 0.028 0.026 0.025 0.025 0.025 0.025 0.026 0.030 0.045 0.080 0.120 0.328 0.140 0.060 0.020 0.010
0.015 0.015 0.015 0.015 0.017 0.025 0.035 0.035 0.032 0.030 0.030 0.030 0.030 0.030 0.032 0.032 0.030 0.030 0.311 0.090 0.060 0.040 0.020 0.015
0.020 0.020 0.020 0.020 0.022 0.030 0.040 0.035 0.030 0.028 0.027 0.027 0.027 0.027 0.028 0.030 0.040 0.060 0.090 0.230 0.309 0.170 0.080 0.040
0.015 0.015 0.015 0.015 0.017 0.025 0.035 0.035 0.030 0.028 0.027 0.027 0.027 0.027 0.028 0.030 0.040 0.070 0.140 0.309 0.237 0.120 0.050 0.020
0.012 0.012 0.012 0.012 0.014 0.022 0.032 0.032 0.030 0.028 0.027 0.027 0.027 0.027 0.028 0.030 0.040 0.070 0.150 0.267 0.265 0.120 0.040 0.015
0.015 0.015 0.015 0.015 0.017 0.025 0.035 0.035 0.030 0.028 0.027 0.027 0.027 0.027 0.028 0.030 0.040 0.080 0.150 0.263 0.255 0.150 0.060 0.020
0.010 0.010 0.010 0.010 0.012 0.020 0.030 0.030 0.028 0.026 0.025 0.025 0.025 0.025 0.026 0.030 0.050 0.100 0.257 0.170 0.100 0.050 0.020 0.010
0.015 0.015 0.015 0.015 0.017 0.025 0.035 0.035 0.030 0.028 0.027 0.027 0.027 0.027 0.028 0.030 0.040 0.060 0.100 0.150 0.180 0.190 0.100 0.040
0.020 0.020 0.020 0.020 0.022 0.030 0.040 0.035 0.030 0.028 0.027 0.027 0.027 0.027 0.028 0.030 0.040 0.060 0.090 0.150 0.200 0.190 0.130 0.080
0.020 0.020 0.020 0.020 0.022 0.030 0.040 0.035 0.030 0.028 0.027 0.027 0.027 0.027 0.028 0.030 0.040 0.060 0.090 0.140 0.160 0.120 0.123 0.060
0.045 0.045 0.045 0.045 0.048 0.055 0.065 0.060 0.055 0.050 0.048 0.046 0.045 0.044 0.044 0.044 0.040 0.020 0.008 0.008 0.008 0.030 0.060 0.070
0.015 0.015 0.015 0.015 0.017 0.025 0.035 0.035 0.030 0.028 0.027 0.027 0.027 0.027 0.028 0.030 0.040 0.070 0.120 0.200 0.262 0.150 0.060 0.020
0.020 0.020 0.020 0.020 0.022 0.030 0.040 0.035 0.030 0.028 0.027 0.027 0.027 0.027 0.028 0.030 0.040 0.060 0.100 0.150 0.200 0.190 0.100 0.050
}\outraw
\pgfplotstabletranspose\outl{\outraw}

\begin{document}
\begin{tikzpicture}
\useasboundingbox (-72pt,-39.84pt) rectangle (504pt,320.16pt);
\begin{axis}[
  at={(0,0)}, anchor=south west,
  scale only axis, width=446.4pt, height=276.96pt,
  xmin=-1.15, xmax=24.15, ymin=0, ymax=0.35,
  xtick={0,1,...,23},
  ytick={0,0.05,0.1,0.15,0.2,0.25,0.3,0.35},
  yticklabel style={/pgf/number format/.cd, fixed, fixed zerofill, precision=2},
  /pgf/number format/assume math mode=true,
  tick label style={font=\fontsize{10}{12}\selectfont, black},
  label style={font=\fontsize{10}{12}\selectfont},
  xtick pos=bottom, ytick pos=left,
  tick align=outside, major tick length=3.5pt,
  every tick/.style={black, line width=0.8pt},
  axis line style={line width=0.8pt, black},
  every axis title shift=0pt,
  title={Daily consumption profiles (weekday)},
  title style={font=\fontsize{12}{14}\selectfont, at={(0.5,1)}, anchor=base, yshift=6pt},
  xlabel={Hour of the day},
  ylabel={Fraction of daily consumption},
  ylabel shift=-3pt,
  cycle list name=tab,
  every axis plot/.append style={line width=0.5pt, mark=none},
  clip=true,
]
\pgfplotsinvokeforeach{1,...,\nbulk}{
  \addplot table[x expr=\coordindex, y index=#1] {\bulk};
}
\addplot[C5] table[x expr=\coordindex, y index=1] {\outl};
\addplot[C6] table[x expr=\coordindex, y index=2] {\outl};
\addplot[C8] table[x expr=\coordindex, y index=3] {\outl};
\addplot[C9] table[x expr=\coordindex, y index=4] {\outl};
\addplot[C7] table[x expr=\coordindex, y index=5] {\outl};
\addplot[C1] table[x expr=\coordindex, y index=6] {\outl};
\addplot[C2] table[x expr=\coordindex, y index=7] {\outl};
\addplot[C2] table[x expr=\coordindex, y index=8] {\outl};
\addplot[C7] table[x expr=\coordindex, y index=9] {\outl};
\addplot[C3] table[x expr=\coordindex, y index=10] {\outl};
\addplot[C1] table[x expr=\coordindex, y index=11] {\outl};
\addplot[C4] table[x expr=\coordindex, y index=12] {\outl};
\addplot[C4] table[x expr=\coordindex, y index=13] {\outl};
\addplot[C6] table[x expr=\coordindex, y index=14] {\outl};
\addplot[C2] table[x expr=\coordindex, y index=15] {\outl};
\addplot[C9] table[x expr=\coordindex, y index=16] {\outl};
\addplot[C7] table[x expr=\coordindex, y index=17] {\outl};
\addplot[C8] table[x expr=\coordindex, y index=18] {\outl};
\addplot[C2] table[x expr=\coordindex, y index=19] {\outl};
\addplot[C3] table[x expr=\coordindex, y index=20] {\outl};
\addplot[C3] table[x expr=\coordindex, y index=21] {\outl};
\addplot[C2] table[x expr=\coordindex, y index=22] {\outl};
\addplot[C9] table[x expr=\coordindex, y index=23] {\outl};
\addplot[C7] table[x expr=\coordindex, y index=24] {\outl};
\addplot[C4] table[x expr=\coordindex, y index=25] {\outl};
\addplot[C8] table[x expr=\coordindex, y index=26] {\outl};
\addplot[C0] table[x expr=\coordindex, y index=27] {\outl};
\addplot[C9] table[x expr=\coordindex, y index=28] {\outl};
\addplot[C1] table[x expr=\coordindex, y index=29] {\outl};
\addplot[C2] table[x expr=\coordindex, y index=30] {\outl};
\addplot[C0] table[x expr=\coordindex, y index=31] {\outl};
\addplot[C8] table[x expr=\coordindex, y index=32] {\outl};
\addplot[C6] table[x expr=\coordindex, y index=33] {\outl};
\addplot[C5] table[x expr=\coordindex, y index=34] {\outl};
% mean profile
\addplot[black, line width=2pt] coordinates {
(0,0.022) (1,0.021) (2,0.0205) (3,0.022) (4,0.027) (5,0.040) (6,0.054) (7,0.045)
(8,0.040) (9,0.038) (10,0.037) (11,0.0365) (12,0.036) (13,0.036) (14,0.037) (15,0.040)
(16,0.046) (17,0.059) (18,0.081) (19,0.086) (20,0.071) (21,0.050) (22,0.034) (23,0.0265)
};
\end{axis}
\end{tikzpicture}
\end{document}
